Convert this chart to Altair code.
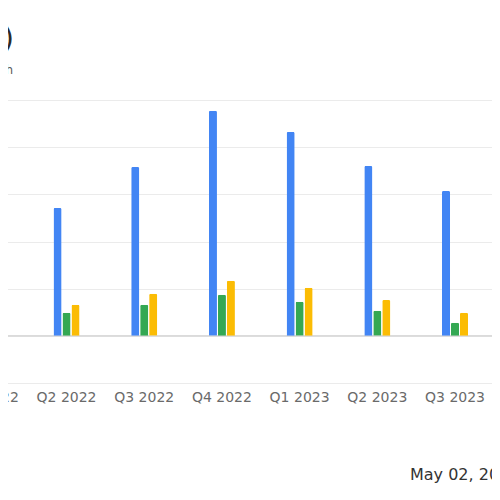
import altair as alt
import pandas as pd

quarters = ["Q1 2022", "Q2 2022", "Q3 2022", "Q4 2022", "Q1 2023", "Q2 2023", "Q3 2023"]
series = ["Revenue", "Net Income", "Gross Profit"]
colors = ["#4285F4", "#34A853", "#FBBC04"]
revenue = [240, 271, 358, 477, 432, 360, 307]
net_income = [50, 49, 66, 87, 72, 53, 28]
gross_profit = [70, 66, 89, 117, 102, 76, 49]
y_ticks = [-100, 0, 100, 200, 300, 400, 500]

title_text = "Quarterly Financial Performance (USD)"
subtitle_text = "Revenue, Net Income and Gross Profit Growth"
date_text = "May 02, 2024"

rows = []
for i, q in enumerate(quarters):
    for s, vals in zip(series, [revenue, net_income, gross_profit]):
        rows.append({"quarter": q, "series": s, "value": vals[i]})
df = pd.DataFrame(rows)

FONT = "DejaVu Sans"

bars = alt.Chart(df).mark_bar(cornerRadiusTopLeft=1.5, cornerRadiusTopRight=1.5).encode(
    x=alt.X("quarter:N", sort=quarters,
            scale=alt.Scale(paddingInner=0.665, paddingOuter=0.3325),
            axis=alt.Axis(title=None, labelAngle=0, domain=False, ticks=False,
                          labelPadding=7, labelFontSize=14, labelColor="#6a6a6a",
                          labelFont=FONT)),
    xOffset=alt.XOffset("series:N", sort=series,
                        scale=alt.Scale(domain=series, paddingInner=0.1)),
    y=alt.Y("value:Q", scale=alt.Scale(domain=[-100, 500], nice=False),
            axis=alt.Axis(title=None, values=y_ticks, grid=True, gridColor="#ebebeb",
                          domain=False, ticks=False, labels=False)),
    color=alt.Color("series:N", scale=alt.Scale(domain=series, range=colors), legend=None),
)

zero = alt.Chart(pd.DataFrame({"v": [0]})).mark_rule(color="#cfcfcf", strokeWidth=1.3).encode(
    y="v:Q"
)

title = alt.Chart(pd.DataFrame({"t": [title_text]})).mark_text(
    align="right", baseline="middle", fontSize=28, color="#2a2a2a", font=FONT
).encode(x=alt.value(64.05), y=alt.value(-60), text="t:N")

subtitle = alt.Chart(pd.DataFrame({"t": [subtitle_text]})).mark_text(
    align="right", baseline="middle", fontSize=12, color="#5a5a5a", font=FONT
).encode(x=alt.value(63.05), y=alt.value(-30), text="t:N")

date = alt.Chart(pd.DataFrame({"t": [date_text]})).mark_text(
    align="left", baseline="middle", fontSize=16, color="#333333", font=FONT
).encode(x=alt.value(460.05), y=alt.value(375), text="t:N")

chart = alt.layer(zero, bars, title, subtitle, date).properties(
    width=543.9, height=283,
    autosize="none",
    padding={"left": -58.05, "top": 92, "right": -1.85, "bottom": 109},
    background="white",
).configure_view(stroke=None)

chart.save("out.html", embed_options={"renderer": "svg", "actions": False})
